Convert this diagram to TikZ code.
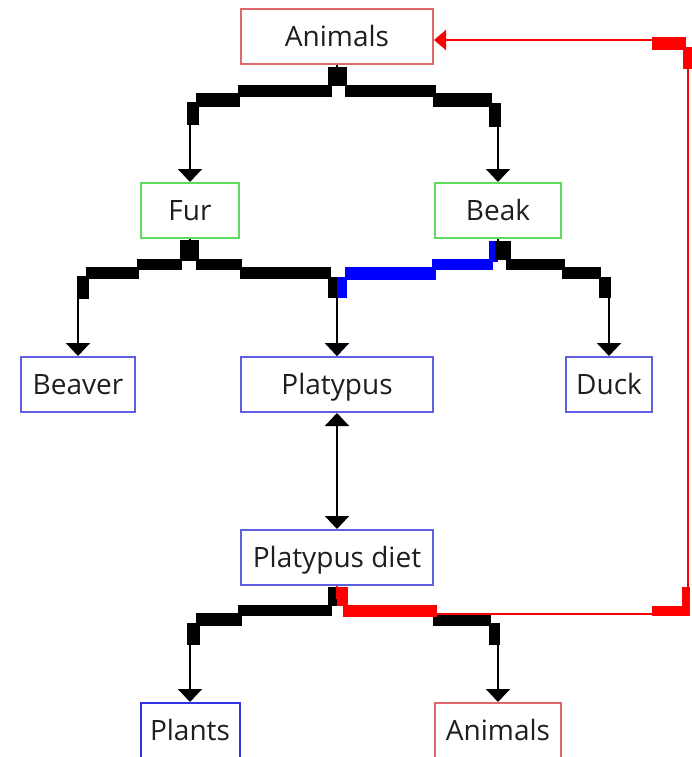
\documentclass[tikz,border=0pt]{standalone}
\usepackage{fontspec}
\setmainfont{Open Sans}
\usetikzlibrary{arrows.meta}
\definecolor{boxred}{RGB}{226,104,104}
\definecolor{boxgreen}{RGB}{95,220,95}
\definecolor{boxblue}{RGB}{95,95,225}
\definecolor{boxdarkblue}{RGB}{50,50,225}
\definecolor{txt}{RGB}{30,30,30}
\definecolor{linkred}{RGB}{255,0,0}
\definecolor{linkblue}{RGB}{0,0,255}
\begin{document}
\begin{tikzpicture}[x=1pt,y=-1pt,
  box/.style={draw, line width=2pt, minimum height=55pt, inner sep=0pt,
    text height=20pt, text depth=0pt, font=\fontsize{28}{34}\selectfont, text=txt},
  redbox/.style={box, draw=boxred},
  greenbox/.style={box, draw=boxgreen},
  bluebox/.style={box, draw=boxblue},
  darkbluebox/.style={box, draw=boxdarkblue},
  conn/.style={line width=2pt, -{Triangle[width=24pt,length=13pt]}},
  dconn/.style={line width=2pt, {Triangle[width=24pt,length=13pt]}-{Triangle[width=24pt,length=13pt]}},
  rconn/.style={line width=2pt, draw=linkred, -{Triangle[width=20pt,length=12pt,fill=linkred]}},
]
\useasboundingbox (0,0) rectangle (692,757);

% nodes
\node[redbox,   minimum width=192pt] (animals1) at (337,37)    {Animals};
\node[greenbox, minimum width=98pt]  (fur)      at (190,210.5) {Fur};
\node[greenbox, minimum width=126pt] (beak)     at (498,210.5) {Beak};
\node[bluebox,  minimum width=114pt] (beaver)   at (78,384.5)  {Beaver};
\node[bluebox,  minimum width=192pt] (platypus) at (337,384.5) {Platypus};
\node[bluebox,  minimum width=86pt]  (duck)     at (609,384.5) {Duck};
\node[bluebox,  minimum width=192pt] (diet)     at (337,557.5) {Platypus diet};
\node[darkbluebox, minimum width=99pt] (plants) at (190,730.5) {Plants};
\node[redbox,   minimum width=126pt] (animals2) at (498,730.5) {Animals};

% thin connector routes
\draw[conn, draw=linkblue, -{Triangle[width=24pt,length=13pt,fill=linkblue]}]
  (beak.south) -- (498,250) -- (491,250) -- (491,264) -- (434,264) -- (434,273)
  -- (346,273) -- (346,285) -- (337,285) -- (platypus.north);
\draw[conn] (animals1.south) -- (337,78) -- (331,78) -- (331,91) -- (239,91)
  -- (239,100) -- (197,100) -- (197,110) -- (190,110) -- (fur.north);
\draw[conn] (animals1.south) -- (337,78) -- (346,78) -- (346,91) -- (435,91)
  -- (435,100) -- (491,100) -- (491,110) -- (498,110) -- (beak.north);
\draw[conn] (fur.south) -- (190,252) -- (181,252) -- (181,264) -- (138,264)
  -- (138,273) -- (88,273) -- (88,285) -- (78,285) -- (beaver.north);
\draw[conn] (fur.south) -- (190,252) -- (198,252) -- (198,264) -- (241,264)
  -- (241,273) -- (330,273) -- (330,288) -- (337,288) -- (platypus.north);
\draw[conn] (beak.south) -- (498,250) -- (509,250) -- (509,264) -- (564,264)
  -- (564,273) -- (600,273) -- (600,285) -- (609,285) -- (duck.north);
\draw[dconn] (platypus.south) -- (diet.north);
\draw[conn] (diet.south) -- (337,598) -- (331,598) -- (331,610) -- (240,610)
  -- (240,619) -- (198,619) -- (198,630) -- (190,630) -- (plants.north);
\draw[conn] (diet.south) -- (337,598) -- (345,598) -- (345,611) -- (435,611)
  -- (435,619) -- (490,619) -- (490,630) -- (498,630) -- (animals2.north);

% thick blue pieces
\fill[linkblue] (489,241) rectangle (498,262);
\fill[linkblue] (432,259) rectangle (493,270);
\fill[linkblue] (345,267) rectangle (436,280);
\fill[linkblue] (336,277) rectangle (347,298);

% thick black pieces
\fill[black] (328,67) rectangle (347,86);
\fill[black] (238,85) rectangle (332,97);
\fill[black] (196,93) rectangle (240,107);
\fill[black] (187,102) rectangle (199,125);
\fill[black] (345,85) rectangle (436,97);
\fill[black] (433,93) rectangle (492,107);
\fill[black] (489,103) rectangle (501,127);

\fill[black] (180,240) rectangle (199,261);
\fill[black] (137,259) rectangle (182,270);
\fill[black] (86,267) rectangle (139,279);
\fill[black] (77,276) rectangle (89,299);
\fill[black] (196,259) rectangle (242,270);
\fill[black] (240,267) rectangle (331,279);
\fill[black] (328,277) rectangle (337,298);

\fill[black] (495,241) rectangle (511,260);
\fill[black] (506,259) rectangle (565,270);
\fill[black] (562,267) rectangle (601,279);
\fill[black] (599,277) rectangle (611,298);

\fill[black] (328,587) rectangle (337,606);
\fill[black] (238,605) rectangle (332,616);
\fill[black] (196,613) rectangle (242,626);
\fill[black] (187,623) rectangle (200,645);
\fill[black] (433,613) rectangle (491,626);
\fill[black] (489,623) rectangle (500,645);

% red feedback connector
\draw[rconn] (diet.south) -- (337,598) -- (345,598) -- (345,614) -- (688,614)
  -- (688,49) -- (684,49) -- (684,40) -- ([yshift=-3pt]animals1.east);
\fill[linkred] (337,587) rectangle (348,606);
\fill[linkred] (343,605) rectangle (437,617);
\fill[linkred] (652,606) rectangle (687,616);
\fill[linkred] (682,587) rectangle (690,616);
\fill[linkred] (683,47) rectangle (692,69);
\fill[linkred] (652,37) rectangle (686,50);
\end{tikzpicture}
\end{document}
